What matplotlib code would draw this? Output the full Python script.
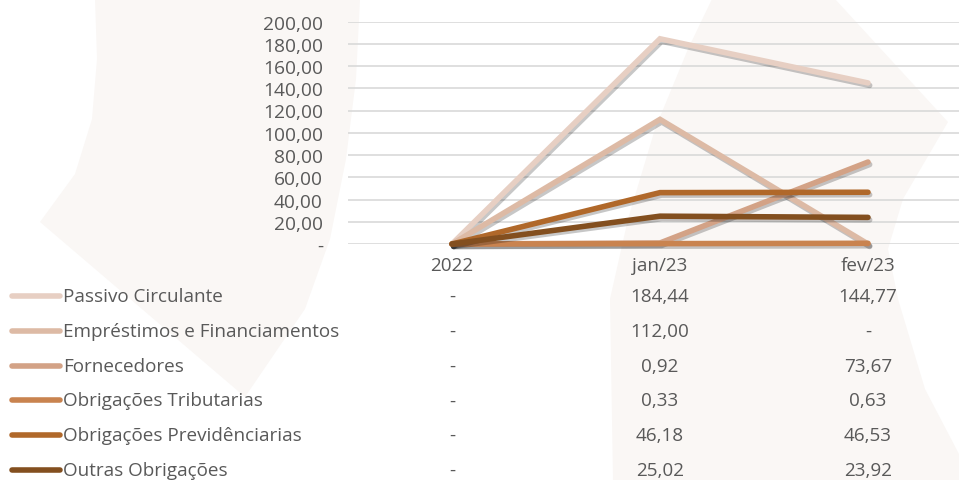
import matplotlib
matplotlib.use("Agg")
import matplotlib.pyplot as plt
from matplotlib.patches import Polygon
from matplotlib.lines import Line2D
from matplotlib.transforms import blended_transform_factory
import matplotlib.patheffects as pe
from matplotlib.ticker import FuncFormatter, MultipleLocator

plt.rcParams['font.family'] = ['Open Sans', 'DejaVu Sans']

categories = ['2022', 'jan/23', 'fev/23']
series_names = ['Passivo Circulante', 'Empréstimos e Financiamentos', 'Fornecedores',
                'Obrigações Tributarias', 'Obrigações Previdênciarias', 'Outras Obrigações']
passivo = [0.0, 184.44, 144.77]
emprestimos = [0.0, 112.00, 0.0]
fornecedores = [0.0, 0.92, 73.67]
tributarias = [0.0, 0.33, 0.63]
previdenciarias = [0.0, 46.18, 46.53]
outras = [0.0, 25.02, 23.92]
series_values = [passivo, emprestimos, fornecedores, tributarias, previdenciarias, outras]
colors = ['#E7CFC3', '#DDBAA5', '#D3A286', '#C9834F', '#B0682A', '#834F1F']

W, H = 959, 481
fig = plt.figure(figsize=(W / 100, H / 100), dpi=100)
fig.patch.set_facecolor('white')

def px(x, y):
    return (x / W, 1 - y / H)

# faint watermark shapes
bg = '#FAF7F5'
left_shape = [(95, 0), (360, 0), (356, 80), (346, 160), (330, 240), (305, 310), (245, 398),
              (40, 223), (75, 175), (92, 120), (97, 60)]
right_shape = [(712, 0), (835, 0), (948, 123), (903, 200), (888, 250), (898, 300), (925, 390),
               (959, 455), (959, 481), (613, 481), (610, 300), (628, 220), (655, 130), (688, 50)]
for shp in (left_shape, right_shape):
    fig.patches.append(Polygon([px(x, y) for x, y in shp], closed=True, transform=fig.transFigure,
                               facecolor=bg, edgecolor='none', zorder=-10))

ax_left, ax_right = 348, 972
ax_top, ax_bot = 22.5, 245
ax = fig.add_axes([ax_left / W, 1 - ax_bot / H, (ax_right - ax_left) / W, (ax_bot - ax_top) / H])
ax.set_facecolor('none')
x = list(range(len(categories)))
ax.set_xlim(-0.5, len(categories) - 0.5)
ax.set_ylim(0, 200)
ax.yaxis.set_major_locator(MultipleLocator(20))

def yfmt(v, pos):
    if abs(v) < 1e-9:
        return '-'
    return f"{v:.2f}".replace('.', ',')

ax.yaxis.set_major_formatter(FuncFormatter(yfmt))
ax.grid(axis='y', color='#D9D9D9', linewidth=1.2)
ax.set_axisbelow(True)
for s in ax.spines.values():
    s.set_visible(False)
ax.tick_params(axis='y', length=0, pad=18, labelsize=13.8, labelcolor='#595959')
ax.set_xticks([])

for vals, c in zip(series_values, colors):
    ax.plot(x, vals, color=c, linewidth=4, solid_capstyle='round', solid_joinstyle='miter',
            clip_on=False,
            path_effects=[pe.SimpleLineShadow(offset=(1.2, -1.8), shadow_color='black', alpha=0.22),
                          pe.Normal()])

# data table below the chart
txt_color = '#595959'
fs = 13.6
trans = blended_transform_factory(ax.transData, fig.transFigure)

def fmt(v):
    if abs(v) < 1e-9:
        return '-'
    return f"{v:.2f}".replace('.', ',')

cat_y = 266
for xi, cat in zip(x, categories):
    fig.text(xi, 1 - cat_y / H, cat, transform=trans, ha='center', va='center',
             fontsize=fs, color=txt_color)

row_y0, row_dy = 297, 34.8
for i, (name, vals, c) in enumerate(zip(series_names, series_values, colors)):
    yy = row_y0 + i * row_dy
    fig.add_artist(Line2D([12 / W, 60 / W], [1 - yy / H, 1 - yy / H], transform=fig.transFigure,
                          color=c, linewidth=4, solid_capstyle='round'))
    fig.text(63 / W, 1 - yy / H, name, ha='left', va='center', fontsize=fs, color=txt_color)
    for xi, v in zip(x, vals):
        fig.text(xi, 1 - yy / H, fmt(v), transform=trans, ha='center', va='center',
                 fontsize=fs, color=txt_color)

fig.savefig('out.png', dpi=100)
